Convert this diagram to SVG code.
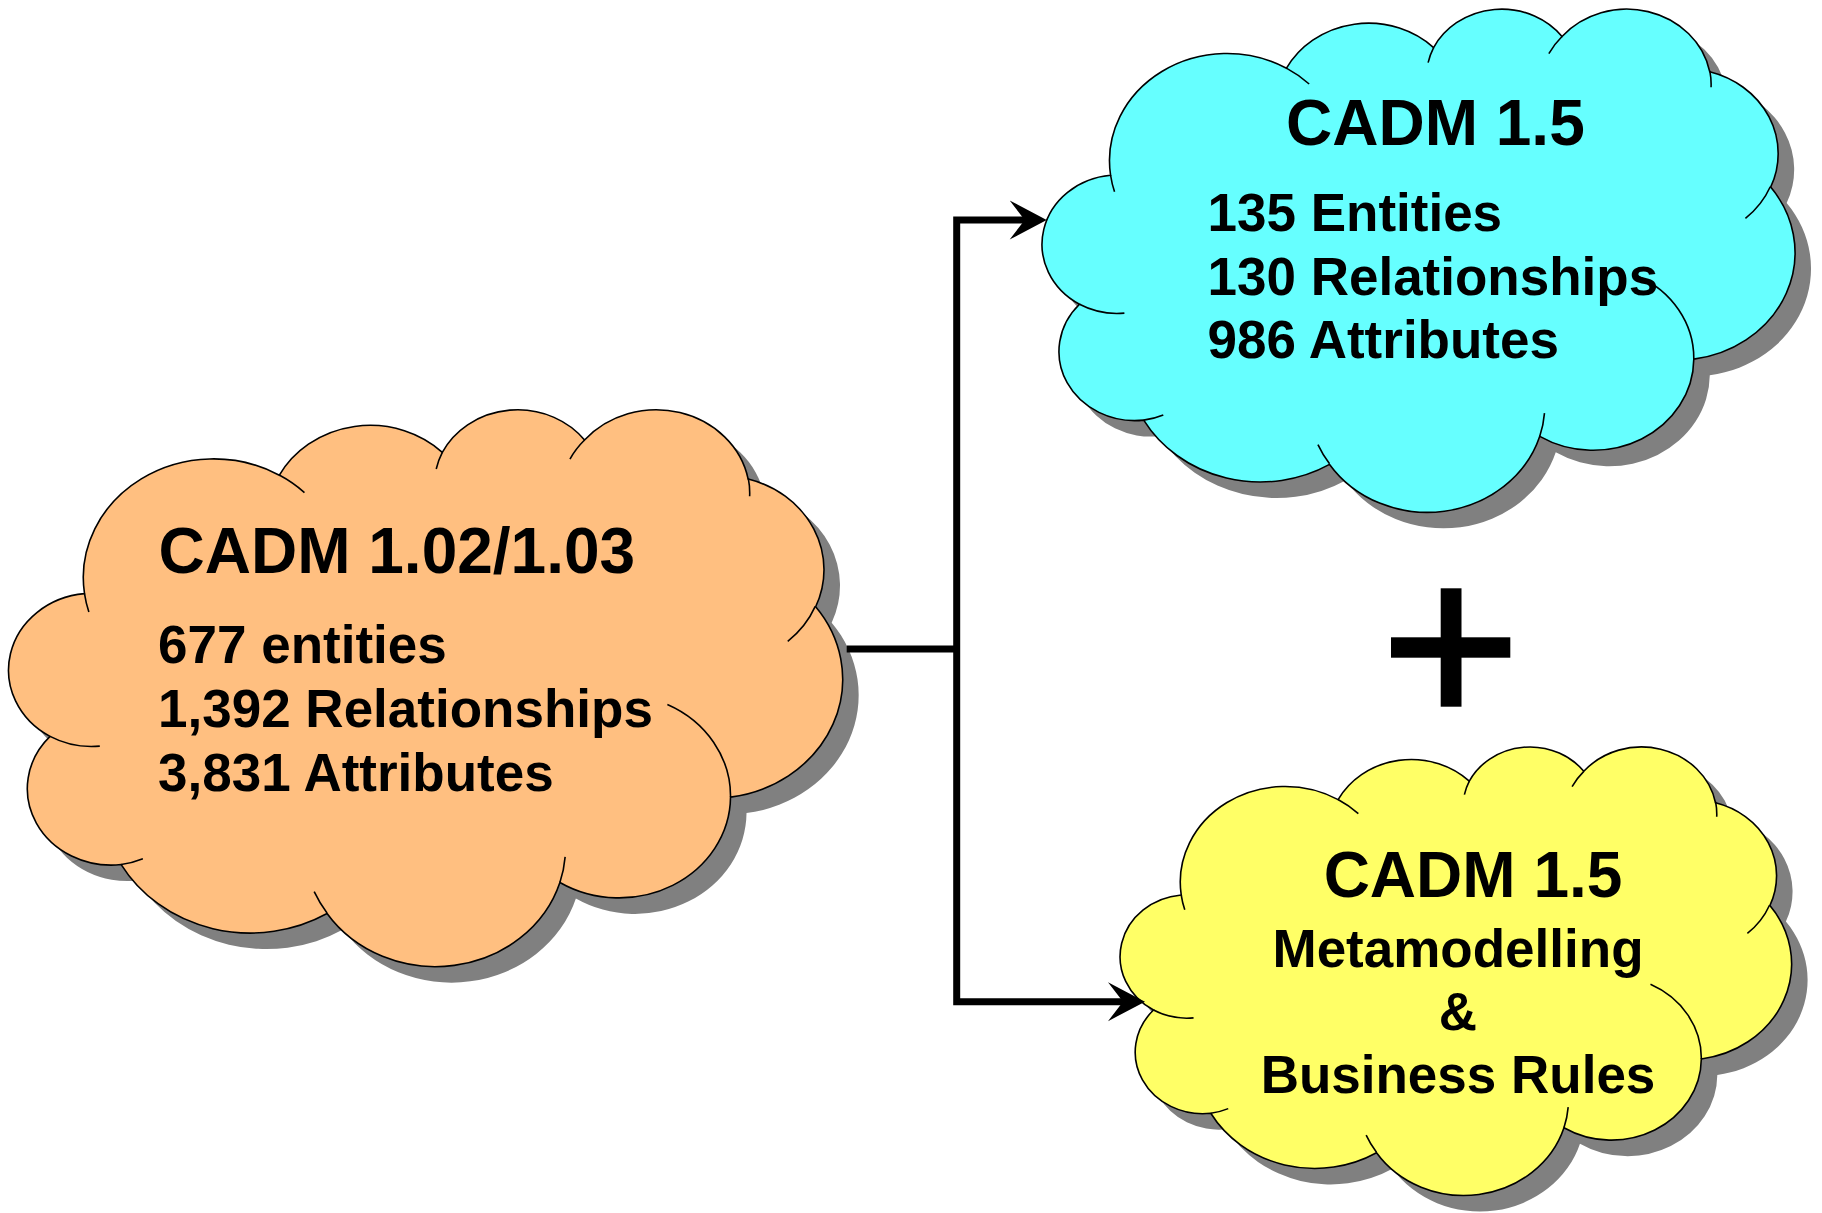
<svg xmlns="http://www.w3.org/2000/svg" xmlns:xlink="http://www.w3.org/1999/xlink" width="1822" height="1213" viewBox="0 0 1822 1213">
  <style>
    .shadow { fill: #808080; stroke: none; }
    .body { stroke: #000; stroke-width: 1.6; }
    .inner { fill: none; stroke: #000; stroke-width: 1.6; }
    .orange { fill: #FFBF80; }
    .cyan { fill: #66FFFF; }
    .yellow { fill: #FFFF66; }
    .title { font-family: "Liberation Sans", Arial, sans-serif; font-weight: bold; font-size: 64px; fill: #000; }
    .line { font-family: "Liberation Sans", Arial, sans-serif; font-weight: bold; font-size: 53px; fill: #000; }
    .conn { fill: none; stroke: #000; stroke-width: 7; stroke-linejoin: miter; stroke-linecap: butt; }
  </style>
  <defs>
    <path id="cloudOuter" vector-effect="non-scaling-stroke" d="M3900 14370 A6753 9190 0 0 1 14006 5201 A5333 7267 0 0 1 22457 3432 A4365 5945 0 0 1 29834 2481 A4857 6595 0 0 1 38319 5500 A5333 7273 0 0 1 41820 15384 A6775 9220 0 0 1 37404 30124 A5785 7867 0 0 1 28555 36734 A6752 9215 0 0 1 16480 39140 A7720 10543 0 0 1 5803 35346 A4360 5918 0 0 1 2113 25422 A4345 5945 0 0 1 3900 14370 Z"/>
    <path id="cloudInner" vector-effect="non-scaling-stroke" d="M4693 26177 A4345 5945 0 0 1 2113 25422 M6928 34899 A4360 5918 0 0 1 5803 35346 M16478 39090 A6752 9215 0 0 1 15812 37446 M28827 34751 A6752 9215 0 0 1 28555 36734 M34129 22954 A5785 7867 0 0 1 37404 30124 M41798 15354 A5333 7273 0 0 1 40371 18061 M38324 5426 A4857 6595 0 0 1 38396 6839 M29078 3952 A4857 6595 0 0 1 29834 2481 M22141 4720 A4365 5945 0 0 1 22457 3432 M14000 5192 A6753 9190 0 0 1 15308 6552 M4127 15789 A6753 9190 0 0 1 3900 14370"/>
    <marker id="arrow" markerUnits="userSpaceOnUse" markerWidth="60" markerHeight="60" refX="0" refY="0" orient="auto" overflow="visible">
      <path d="M18 0 L-19 -19.5 L-4 0 L-19 19.5 Z" fill="#000" stroke="none"/>
    </marker>
  </defs>

  <g id="node-cadm-102">
    <use xlink:href="#cloudOuter" class="shadow" transform="translate(25.3 424) scale(0.019282 0.012917)"/>
    <use xlink:href="#cloudOuter" class="body orange" transform="translate(9.3 408) scale(0.019282 0.012917)"/>
    <use xlink:href="#cloudInner" class="inner" transform="translate(9.3 408) scale(0.019282 0.012917)"/>
    <text class="title" x="158.5" y="572.7">CADM 1.02/1.03</text>
    <text class="line" x="158" y="663.3">677 entities</text>
    <text class="line" x="158" y="727.3">1,392 Relationships</text>
    <text class="line" x="158" y="790.5">3,831 Attributes</text>
  </g>

  <g id="node-cadm15">
    <use xlink:href="#cloudOuter" class="shadow" transform="translate(1058.7 23.5) scale(0.017407 0.011674)"/>
    <use xlink:href="#cloudOuter" class="body cyan" transform="translate(1042.7 7.5) scale(0.017407 0.011674)"/>
    <use xlink:href="#cloudInner" class="inner" transform="translate(1042.7 7.5) scale(0.017407 0.011674)"/>
    <text class="title" x="1286" y="145">CADM 1.5</text>
    <text class="line" x="1207.5" y="231">135 Entities</text>
    <text class="line" x="1207.5" y="294.5">130 Relationships</text>
    <text class="line" x="1207.5" y="358.3">986 Attributes</text>
  </g>

  <g id="node-cadm15-meta">
    <use xlink:href="#cloudOuter" class="shadow" transform="translate(1136.7 761.5) scale(0.015523 0.010405)"/>
    <use xlink:href="#cloudOuter" class="body yellow" transform="translate(1120.7 745.5) scale(0.015523 0.010405)"/>
    <use xlink:href="#cloudInner" class="inner" transform="translate(1120.7 745.5) scale(0.015523 0.010405)"/>
    <text class="title" x="1473" y="896.5" text-anchor="middle">CADM 1.5</text>
    <text class="line" x="1458" y="966.7" text-anchor="middle">Metamodelling</text>
    <text class="line" x="1458" y="1029.7" text-anchor="middle">&amp;</text>
    <text class="line" x="1458" y="1093" text-anchor="middle">Business Rules</text>
  </g>

  <g id="plus">
    <rect x="1440.7" y="588.3" width="20.8" height="118.4" fill="#000"/>
    <rect x="1391" y="637.3" width="119.3" height="20.4" fill="#000"/>
  </g>

  <g id="connectors">
    <path class="conn" d="M846.7 649 H956.7"/>
    <path class="conn" d="M956.7 649 V220 H1028.7" marker-end="url(#arrow)"/>
    <path class="conn" d="M956.7 649 V1001.7 H1127" marker-end="url(#arrow)"/>
  </g>
</svg>
